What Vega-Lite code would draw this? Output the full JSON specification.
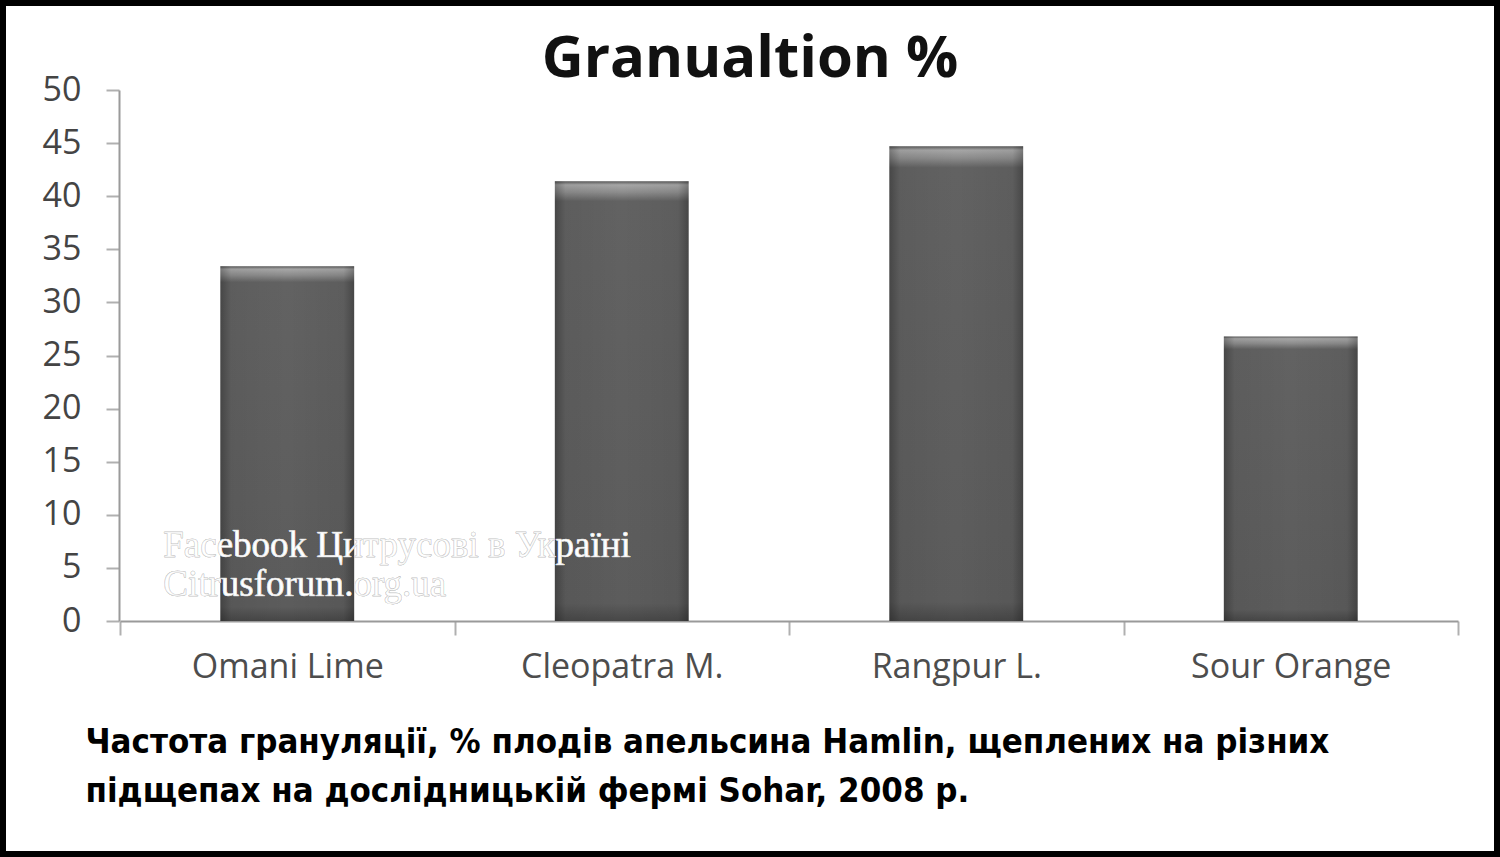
{
  "$schema": "https://vega.github.io/schema/vega-lite/v6.json",
  "width": 1500,
  "height": 857,
  "autosize": {"type": "none"},
  "padding": 0,
  "background": "white",
  "config": {
    "view": {"stroke": "#000000", "strokeWidth": 12, "fill": "white"}
  },
  "title": {
    "text": "Granualtion %",
    "font": "Open Sans",
    "fontWeight": "bold",
    "fontSize": 58,
    "color": "#111111",
    "anchor": "middle",
    "frame": "group",
    "baseline": "alphabetic",
    "offset": -135
  },
  "data": {
    "values": [
      {"rootstock": "Omani Lime", "granulation": 33.4},
      {"rootstock": "Cleopatra M.", "granulation": 41.4},
      {"rootstock": "Rangpur L.", "granulation": 44.7},
      {"rootstock": "Sour Orange", "granulation": 26.8}
    ]
  },
  "encoding": {
    "x": {
      "field": "rootstock",
      "type": "nominal",
      "sort": null,
      "scale": {"range": [120, 1458], "paddingInner": 0, "paddingOuter": 0},
      "axis": {
        "orient": "bottom",
        "offset": -236,
        "tickBand": "extent",
        "labelAngle": 0,
        "labelLimit": 500,
        "labelFont": "Open Sans",
        "labelFontSize": 34,
        "labelColor": "#4d4d4d",
        "labelPadding": 32,
        "labelBaseline": "middle",
        "domainColor": "#9a9a9a",
        "domainWidth": 2,
        "tickColor": "#b0b0b0",
        "tickWidth": 2,
        "tickSize": 14,
        "grid": false,
        "title": ["Частота грануляції, % плодів апельсина Hamlin, щеплених на різних", "підщепах на дослідницькій фермі Sohar, 2008 р."],
        "titleFont": "DejaVu Sans Condensed",
        "titleFontWeight": "bold",
        "titleFontSize": 34.5,
        "titleColor": "#000000",
        "titleAlign": "left",
        "titleBaseline": "alphabetic",
        "titleAngle": 0,
        "titleLineHeight": 49,
        "titleX": 85,
        "titleY": 131
      }
    },
    "y": {
      "field": "granulation",
      "type": "quantitative",
      "scale": {"domain": [0, 50], "range": [621, 90], "nice": false, "zero": true},
      "axis": {
        "orient": "left",
        "offset": -119,
        "values": [0, 5, 10, 15, 20, 25, 30, 35, 40, 45, 50],
        "labelFont": "Open Sans",
        "labelFontSize": 34,
        "labelColor": "#444444",
        "labelPadding": 25,
        "domainColor": "#9a9a9a",
        "domainWidth": 2,
        "tickColor": "#b0b0b0",
        "tickWidth": 2,
        "tickSize": 13,
        "grid": false,
        "title": null
      }
    }
  },
  "layer": [
    {
      "mark": {
        "type": "bar",
        "width": {"band": 0.4},
        "color": {
          "gradient": "linear",
          "x1": 0, "y1": 0, "x2": 0, "y2": 1,
          "stops": [
            {"offset": 0, "color": "#5a5a5a"},
            {"offset": 0.008, "color": "#a6a6a6"},
            {"offset": 0.025, "color": "#8c8c8c"},
            {"offset": 0.045, "color": "#626262"},
            {"offset": 0.96, "color": "#5c5c5c"},
            {"offset": 1, "color": "#474747"}
          ]
        }
      }
    },
    {
      "mark": {
        "type": "bar",
        "width": {"band": 0.4},
        "color": {
          "gradient": "linear",
          "x1": 0, "y1": 0, "x2": 1, "y2": 0,
          "stops": [
            {"offset": 0, "color": "rgba(0,0,0,0.28)"},
            {"offset": 0.08, "color": "rgba(0,0,0,0.05)"},
            {"offset": 0.5, "color": "rgba(0,0,0,0)"},
            {"offset": 0.92, "color": "rgba(0,0,0,0.05)"},
            {"offset": 1, "color": "rgba(0,0,0,0.28)"}
          ]
        }
      }
    },
    {
      "mark": {
        "type": "text",
        "text": ["Facebook Цитрусові в Україні", "Citrusforum.org.ua"],
        "font": "Liberation Serif",
        "fontSize": 37,
        "lineHeight": 39,
        "align": "left",
        "baseline": "alphabetic",
        "dx": -124,
        "fill": "#ffffff",
        "stroke": "#aaaaaa",
        "strokeWidth": 0.5,
        "strokeOpacity": 0.5
      },
      "encoding": {
        "x": {"datum": "Omani Lime"},
        "y": {"datum": 6}
      }
    }
  ]
}
